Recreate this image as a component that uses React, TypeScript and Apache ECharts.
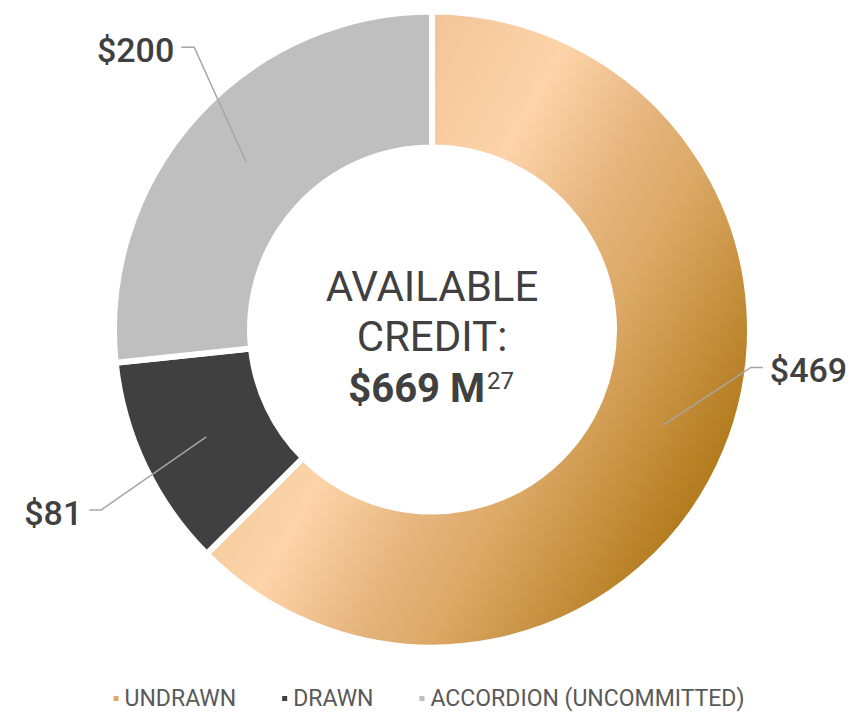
import React, { useEffect, useRef } from "react";
import * as echarts from "echarts";

const categories = ["UNDRAWN", "DRAWN", "ACCORDION (UNCOMMITTED)"];
const values = [469, 81, 200];
const centerLines = ["AVAILABLE", "CREDIT:"];
const centerTotal = "$669 M";
const centerNote = "27";

const CX = 432;
const CY = 329.5;
const R_ANCHOR = 250;
// elbow offset from anchor (dx, dy) and horizontal tail length
const LABEL_OFFSETS = [
  [88, -58, 12],
  [-105, 73, -12],
  [-52, -115, -13],
];
const FONT = "Roboto, 'Noto Sans', sans-serif";
const TEXT_COLOR = "#404040";

export default function App() {
  const ref = useRef<HTMLDivElement>(null);
  useEffect(() => {
    document.body.style.margin = "0";
    const chart = echarts.init(ref.current!, null, { renderer: "svg" });
    const total = values.reduce((a, b) => a + b, 0);
    const cum: number[] = [];
    values.reduce((acc, v, i) => {
      cum[i] = acc;
      return acc + v;
    }, 0);

    const geom = values.map((v, i) => {
      const theta = ((cum[i] + v / 2) / total) * Math.PI * 2;
      const ax = CX + R_ANCHOR * Math.sin(theta);
      const ay = CY - R_ANCHOR * Math.cos(theta);
      const [dx, dy, tail] = LABEL_OFFSETS[i];
      const ex = ax + dx;
      const ey = ay + dy;
      const tx = ex + tail;
      return { ax, ay, ex, ey, tx, right: tail > 0 };
    });

    const undrawnGradient = {
      type: "linear",
      x: 395,
      y: 61,
      x2: 822,
      y2: 302,
      global: true,
      colorStops: [
        { offset: 0, color: "#efc497" },
        { offset: 0.29, color: "#fdd3a9" },
        { offset: 0.5, color: "#e6b57e" },
        { offset: 0.66, color: "#daa763" },
        { offset: 1, color: "#b07818" },
      ],
    };
    const colors = [undrawnGradient, "#404040", "#bfbfbf"];
    const legendColors = ["#e3a865", "#404040", "#bfbfbf"];

    chart.setOption({
      animation: false,
      legend: {
        bottom: -3,
        left: "center",
        icon: "rect",
        itemWidth: 7,
        itemHeight: 7,
        itemGap: 44,
        data: categories.map((n, i) => ({ name: n, itemStyle: { color: legendColors[i] } })),
        textStyle: { fontFamily: FONT, fontSize: 23, color: "#595959" },
        selectedMode: false,
      },
      graphic: [
        ...centerLines.map((t, i) => ({
          type: "text",
          x: CX,
          y: 286 + i * 50,
          style: {
            text: t,
            fontFamily: FONT,
            fontSize: 42,
            fill: TEXT_COLOR,
            align: "center",
            verticalAlign: "middle",
          },
        })),
        {
          type: "text",
          x: 485,
          y: 388,
          style: {
            text: centerTotal,
            fontFamily: FONT,
            fontSize: 40,
            fontWeight: "bold",
            fill: TEXT_COLOR,
            align: "right",
            verticalAlign: "middle",
          },
        },
        {
          type: "text",
          x: 487,
          y: 381,
          style: {
            text: centerNote,
            fontFamily: FONT,
            fontSize: 24,
            fill: TEXT_COLOR,
            align: "left",
            verticalAlign: "middle",
          },
        },
        ...geom.map((g) => ({
          type: "polyline",
          silent: true,
          z: 10,
          shape: {
            points: [
              [g.ax, g.ay],
              [g.ex, g.ey],
              [g.tx, g.ey],
            ],
          },
          style: { stroke: "#a6a6a6", lineWidth: 1.5, fill: null },
        })),
      ],
      series: [
        {
          type: "pie",
          center: [CX, CY],
          radius: [182, 318],
          startAngle: 90,
          clockwise: true,
          silent: true,
          emphasis: { disabled: true },
          itemStyle: { borderColor: "#ffffff", borderWidth: 6 },
          data: categories.map((n, i) => ({
            name: n,
            value: values[i],
            itemStyle: { color: colors[i] },
          })),
          label: {
            show: true,
            position: "outside",
            formatter: (p: any) => "$" + p.value,
            fontFamily: FONT,
            fontSize: 34,
            fontWeight: 500,
            color: TEXT_COLOR,
            overflow: "none",
          },
          labelLine: { show: false },
          labelLayout: (params: any) => {
            const g = geom[params.dataIndex];
            return {
              x: g.tx + (g.right ? 7 : -7),
              y: g.ey + 3,
              width: 200,
              align: g.right ? "left" : "right",
              verticalAlign: "middle",
            };
          },
        },
      ],
    });
    return () => chart.dispose();
  }, []);
  return <div ref={ref} style={{ width: 856, height: 712 }} />;
}
